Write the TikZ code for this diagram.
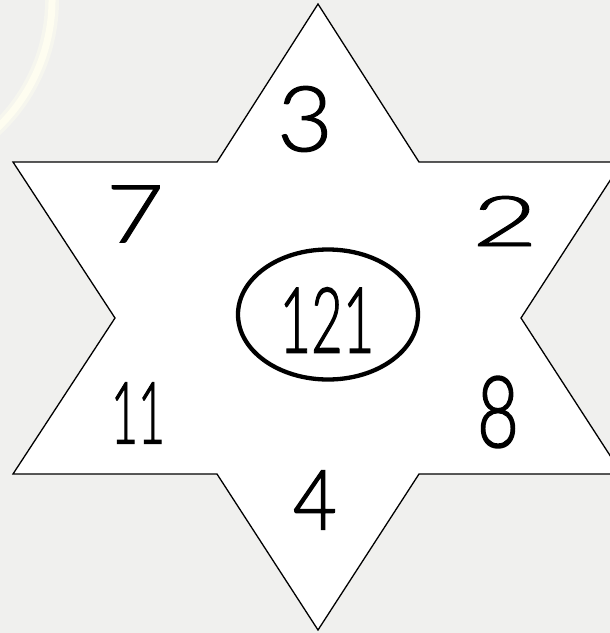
\documentclass[tikz,border=0pt]{standalone}
\usepackage{fontspec}
\usepackage{graphicx}
\newfontfamily\hand{Lato Light}[FakeBold=1.6]
\newfontfamily\handlight{Lato Light}[FakeBold=1.2]
\definecolor{bg}{RGB}{240,240,238}
\definecolor{glowc}{RGB}{254,253,240}
\definecolor{glowc2}{RGB}{246,246,238}
\begin{document}
\begin{tikzpicture}[x=1pt,y=-1pt,
  star/.style={fill=white,draw=black,line width=1.3pt,line join=miter},
  ring/.style={draw=black,line width=4.3pt},
  digit/.style={inner sep=0pt,font=\hand},
  widedigit/.style={inner sep=0pt,font=\handlight}]
\useasboundingbox (0,0) rectangle (610,633);
\clip (0,0) rectangle (610,633);
\fill[bg] (0,0) rectangle (610,633);
% faint glow arc
\draw[glowc2,line width=14pt] ([shift={(-30:177)}]-125,0) arc[start angle=-30,end angle=60,radius=177];
\draw[glowc,line width=7pt] ([shift={(-30:177)}]-125,0) arc[start angle=-30,end angle=60,radius=177];
% star
\draw[star] (318,4) -- (419,162) -- (622,162) -- (521,318) -- (622,474) -- (419,474)
  -- (318,630) -- (217,474) -- (13,474) -- (115,318) -- (13,162) -- (217,162) -- cycle;
% ring
\draw[ring] (328,314.5) ellipse [x radius=90pt, y radius=65pt];
% digits
\node[widedigit] (d3) at (305,119) {\resizebox{56pt}{65pt}{3}};
\node[widedigit] (d7) at (135,214) {\resizebox{58pt}{57pt}{7}};
\node[widedigit] (d2) at (505,221) {\resizebox{66pt}{50pt}{2}};
\node[digit] (d11) at (138,413) {\resizebox{54pt}{61pt}{11}};
\node[digit] (d8) at (498,412) {\resizebox{42pt}{71pt}{8}};
\node[digit] (d4) at (315,500) {\resizebox{44pt}{59pt}{4}};
\node[digit] (d121) at (327,320) {\resizebox{95pt}{65pt}{121}};
\end{tikzpicture}
\end{document}
